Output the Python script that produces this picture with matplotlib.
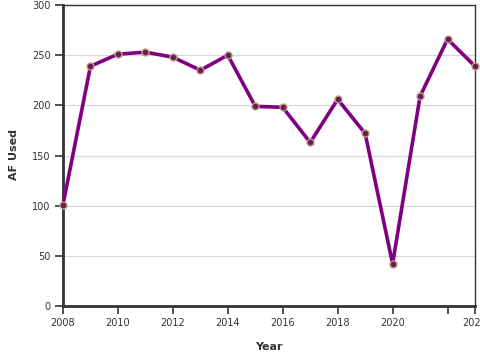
import matplotlib
matplotlib.use('Agg')
import matplotlib.pyplot as plt

# Yearly AF used
years = [2008, 2009, 2010, 2011, 2012, 2013, 2014, 2015,
         2016, 2017, 2018, 2019, 2020, 2021, 2022, 2023]
af_used = [101, 239, 251, 253, 248, 235, 250, 199,
           198, 163, 206, 172, 42, 209, 266, 239]

x_ticks = [2008, 2010, 2012, 2014, 2016, 2018, 2020, 2022, 2023]
x_tick_labels = ['2008', '2010', '2012', '2014', '2016', '2018', '2020', '', '2023']
y_ticks = [0, 50, 100, 150, 200, 250, 300]

fig = plt.figure(figsize=(4.8, 3.6), dpi=100)
ax = fig.add_axes([63 / 480, 54 / 360, 412 / 480, 301 / 360])

ax.plot(years, af_used, color='#800080', linewidth=2.6, marker='o',
        markersize=5, markerfacecolor='#6b1a5e', markeredgecolor='#b8a27a',
        markeredgewidth=1.0, zorder=3, clip_on=False)

ax.set_xlim(2008, 2023)
ax.set_ylim(0, 300)
ax.set_xticks(x_ticks)
ax.set_xticklabels(x_tick_labels)
ax.set_yticks(y_ticks)

ax.grid(axis='y', color='#d9d9d9', linewidth=0.9)
ax.set_axisbelow(True)

for side in ['top', 'right']:
    ax.spines[side].set_linewidth(1.0)
    ax.spines[side].set_color('#333333')
for side in ['left', 'bottom']:
    ax.spines[side].set_linewidth(2.0)
    ax.spines[side].set_color('#333333')

ax.tick_params(axis='both', length=6, width=1.2, color='#333333',
               labelsize=7, labelcolor='#333333', pad=3)

ax.set_xlabel('Year', fontsize=8, fontweight='bold', color='#333333')
ax.set_ylabel('AF Used', fontsize=8, fontweight='bold', color='#333333')
ax.xaxis.set_label_coords((269 - 63) / 412, (306 - 347) / 301)
ax.yaxis.set_label_coords((14 - 63) / 412, (306 - 155) / 301)
ax.xaxis.label.set_va('center')
ax.yaxis.label.set_va('center')

fig.savefig('out.png', dpi=100)
